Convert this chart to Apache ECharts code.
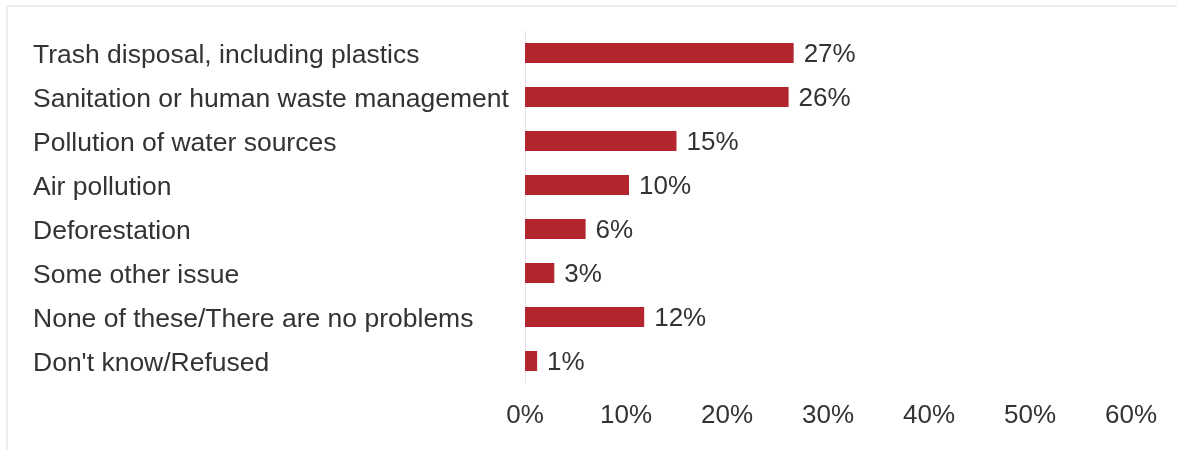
<!DOCTYPE html>
<html>
<head>
<meta charset="utf-8">
<script src="https://cdn.jsdelivr.net/npm/echarts@6/dist/echarts.min.js"></script>
<style>
html,body{margin:0;padding:0;background:#fff;}
#chart{width:1177px;height:450px;}
</style>
</head>
<body>
<div id="chart"></div>
<script>
const categories = [
  "Trash disposal, including plastics",
  "Sanitation or human waste management",
  "Pollution of water sources",
  "Air pollution",
  "Deforestation",
  "Some other issue",
  "None of these/There are no problems",
  "Don't know/Refused"
];
const values = [26.6, 26.1, 15.0, 10.3, 6.0, 2.9, 11.8, 1.2];
const labels = ["27%", "26%", "15%", "10%", "6%", "3%", "12%", "1%"];
const xTicks = [0, 10, 20, 30, 40, 50, 60];

const chart = echarts.init(document.getElementById('chart'), null, {renderer: 'canvas'});
const font = 'Liberation Sans, Arial, sans-serif';
chart.setOption({
  animation: false,
  backgroundColor: '#fff',
  graphic: [
    {type: 'line', shape: {x1: 6, y1: 6, x2: 1177, y2: 6}, style: {stroke: '#eeeeee', lineWidth: 2}},
    {type: 'line', shape: {x1: 7, y1: 6, x2: 7, y2: 450}, style: {stroke: '#eeeeee', lineWidth: 2}}
  ],
  grid: {left: 525, right: 46, top: 31, bottom: 67, containLabel: false},
  xAxis: {
    type: 'value',
    min: xTicks[0],
    max: xTicks[xTicks.length - 1],
    interval: 10,
    axisLine: {show: false},
    axisTick: {show: false},
    splitLine: {show: false},
    axisLabel: {
      formatter: v => v + '%',
      color: '#333',
      fontSize: 26,
      fontFamily: font,
      margin: 20
    }
  },
  yAxis: {
    type: 'category',
    data: categories,
    inverse: true,
    axisLine: {show: true, lineStyle: {color: '#e3e3e3', width: 1}},
    axisTick: {show: false},
    axisLabel: {
      align: 'left',
      margin: 492,
      formatter: v => '{c|' + v + '}',
      rich: {
        c: {
          color: '#333',
          fontSize: 26.5,
          fontFamily: font,
          padding: [5, 0, 0, 0]
        }
      }
    }
  },
  series: [{
    type: 'bar',
    data: values,
    barWidth: 20,
    itemStyle: {color: '#b3262e'},
    label: {
      show: true,
      position: 'right',
      distance: 10,
      offset: [0, 2],
      formatter: p => labels[p.dataIndex],
      color: '#333',
      fontSize: 26,
      fontFamily: font
    }
  }]
});
</script>
</body>
</html>
